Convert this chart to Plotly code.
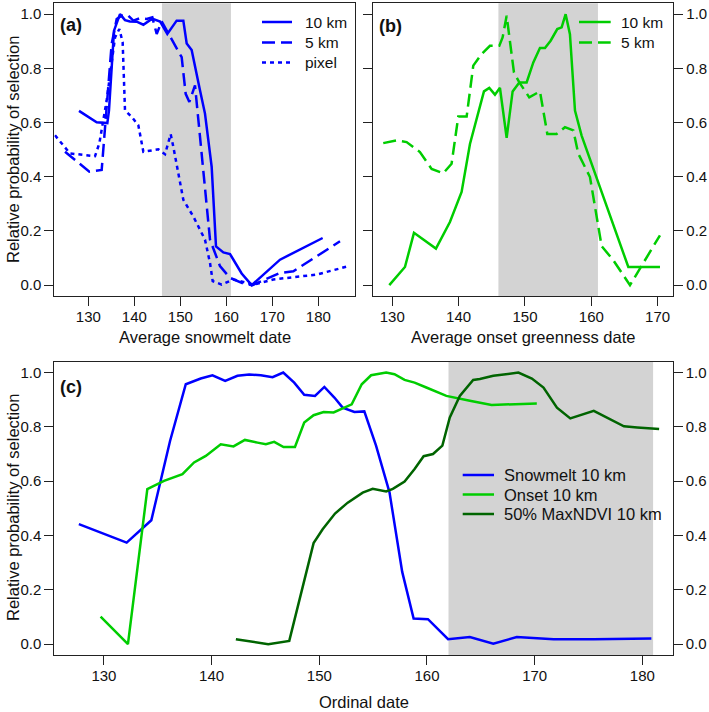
import plotly.graph_objects as go

# ---------------- data ----------------
# Panel (a): snowmelt date
a_10km_x = [127.97,131.81,134.13,134.49,135.58,136.88,137.97,139.06,140.51,141.96,143.41,144.13,145.58,147.17,149.2,150.65,151.38,152.46,154.28,155.36,156.81,157.75,159.35,160.8,163.33,165.51,171.67,180.94]
a_10km_y = [0.643,0.601,0.598,0.645,0.939,1.0,0.978,0.973,0.972,0.961,0.978,0.982,0.973,0.927,0.976,0.976,0.892,0.868,0.718,0.633,0.437,0.143,0.121,0.115,0.043,0.0,0.094,0.174]
a_5km_x = [124.93,130.22,132.9,133.99,135.07,136.16,137.25,138.48,139.78,141.23,142.68,143.91,144.86,145.94,148.12,150.29,151.16,151.96,153.19,154.64,156.45,158.62,160.8,163.7,165.65,171.67,174.57,184.71]
a_5km_y = [0.492,0.419,0.425,0.67,0.89,0.982,0.994,0.998,0.976,0.985,0.982,0.988,0.927,0.973,0.908,0.841,0.706,0.676,0.737,0.474,0.168,0.07,0.027,0.006,0.0,0.045,0.051,0.162]
a_pix_x = [122.75,126.01,131.45,132.39,133.99,135.07,135.8,136.74,137.46,137.97,139.42,140.87,141.96,145.22,146.67,147.9,148.48,150.65,152.83,155.36,156.45,157.03,158.99,161.52,165.87,170.22,179.64,186.52]
a_pix_y = [0.553,0.486,0.476,0.523,0.682,0.829,0.914,0.945,0.896,0.645,0.621,0.59,0.492,0.501,0.483,0.557,0.51,0.315,0.253,0.168,0.082,0.015,0.002,0.021,0.002,0.021,0.039,0.07]

# Panel (b): onset greenness date
b_10km_x = [129.55,131.91,133.27,136.58,138.69,140.45,141.71,143.82,144.62,145.48,146.23,147.24,148.14,149.15,150.25,151.26,152.26,153.02,153.87,154.87,155.53,156.13,156.78,157.54,158.54,165.58,170.35]
b_10km_y = [0.0,0.067,0.193,0.135,0.233,0.344,0.521,0.715,0.728,0.703,0.728,0.544,0.715,0.748,0.748,0.822,0.875,0.875,0.902,0.945,0.951,1.0,0.926,0.644,0.552,0.067,0.067]
b_5km_x = [128.64,130.65,132.16,134.17,135.93,137.69,138.94,139.95,141.21,142.21,143.47,144.72,146.13,146.63,147.24,148.34,149.15,150.65,152.26,153.37,154.77,156.03,157.29,158.04,159.8,161.56,163.32,165.83,170.35]
b_5km_y = [0.524,0.534,0.528,0.491,0.429,0.413,0.448,0.622,0.622,0.81,0.853,0.883,0.883,0.914,0.994,0.785,0.748,0.693,0.715,0.558,0.558,0.583,0.571,0.485,0.399,0.144,0.092,0.0,0.184]

# Panel (c): ordinal date
c_snow_x = [127.67,132.11,134.4,136.14,137.6,138.99,140.08,141.26,142.4,143.49,144.57,145.66,146.65,147.67,148.6,149.6,150.47,151.4,152.17,153.26,154.18,155.27,156.52,157.7,158.76,160.09,161.96,163.98,166.16,168.34,171.76,175.49,180.84]
c_snow_y = [0.442,0.374,0.456,0.748,0.957,0.978,0.99,0.969,0.988,0.993,0.99,0.983,1.0,0.963,0.918,0.914,0.947,0.908,0.871,0.855,0.857,0.731,0.559,0.266,0.094,0.092,0.018,0.026,0.002,0.026,0.018,0.018,0.021]
c_onset_x = [129.69,132.23,134.03,135.58,137.29,138.37,139.46,140.85,142.03,143.09,144.26,145.04,145.81,146.68,147.74,148.6,149.47,150.4,151.33,152.08,153.01,153.94,154.81,156.21,156.98,157.92,158.85,159.94,161.8,163.98,166.0,170.2]
c_onset_y = [0.101,0.0,0.571,0.601,0.626,0.669,0.693,0.736,0.728,0.752,0.742,0.736,0.745,0.726,0.726,0.816,0.843,0.855,0.853,0.867,0.883,0.957,0.99,1.0,0.994,0.973,0.963,0.945,0.914,0.896,0.881,0.886]
c_ndvi_x = [142.25,145.26,147.21,149.47,150.31,151.46,152.64,154.03,154.96,156.21,156.83,157.92,158.85,159.69,160.56,161.43,162.12,163.05,164.29,164.91,166.16,167.4,168.49,169.74,170.82,172.07,173.31,175.49,178.29,179.53,181.56]
c_ndvi_y = [0.018,0.0,0.012,0.372,0.423,0.481,0.521,0.558,0.572,0.562,0.572,0.599,0.645,0.692,0.7,0.731,0.835,0.914,0.973,0.976,0.988,0.994,1.0,0.978,0.945,0.871,0.831,0.859,0.802,0.798,0.792]

# shaded periods
shade_ab = [146, 161]
shade_c = [162, 181]

# text
panel_labels = ["(a)", "(b)", "(c)"]
legend_a = ["10 km", "5 km", "pixel"]
legend_b = ["10 km", "5 km"]
legend_c = ["Snowmelt 10 km", "Onset 10 km", "50% MaxNDVI 10 km"]
xtitles = ["Average snowmelt date", "Average onset greenness date", "Ordinal date"]
ytitle = "Relative probability of selection"

# ---------------- style ----------------
W, H = 709, 712
FONT = "Liberation Sans, Arial, sans-serif"
BLUE = "#0000FF"
GREEN = "#00CD00"
DKGREEN = "#006400"
GREY = "#D3D3D3"
AXC = "#222222"
LW = 2.5
DASH = "13px,6px"
DOT = "4px,4px"

def px(x):
    return x / W

def py(y):
    return 1 - y / H

fig = go.Figure()

def add(x, y, color, dash, xa, ya):
    fig.add_trace(go.Scatter(x=x, y=y, mode="lines", xaxis=xa, yaxis=ya,
                             line=dict(color=color, width=LW, dash=dash),
                             showlegend=False, hoverinfo="skip"))

add(a_10km_x, a_10km_y, BLUE, "solid", "x", "y")
add(a_5km_x, a_5km_y, BLUE, DASH, "x", "y")
add(a_pix_x, a_pix_y, BLUE, DOT, "x", "y")
add(b_10km_x, b_10km_y, GREEN, "solid", "x2", "y2")
add(b_5km_x, b_5km_y, GREEN, DASH, "x2", "y2")
add(c_snow_x, c_snow_y, BLUE, "solid", "x3", "y3")
add(c_onset_x, c_onset_y, GREEN, "solid", "x3", "y3")
add(c_ndvi_x, c_ndvi_y, DKGREEN, "solid", "x3", "y3")
fig.add_trace(go.Scatter(x=[], y=[], xaxis="x3", yaxis="y4", showlegend=False))

tickfont = dict(family=FONT, size=15, color="#111")
common_x = dict(showgrid=False, zeroline=False, showline=True, mirror=True,
                linecolor=AXC, linewidth=1, ticks="outside", ticklen=9,
                tickcolor=AXC, tickwidth=1, dtick=10, tick0=0, tickfont=tickfont,
                ticklabelstandoff=-2)
common_y = dict(showgrid=False, zeroline=False, showline=True,
                linecolor=AXC, linewidth=1, ticks="outside", ticklen=9,
                tickcolor=AXC, tickwidth=1, dtick=0.2, tick0=0, tickformat=".1f",
                range=[-0.04, 1.04], tickfont=tickfont)

dom_a = [px(54.3), px(355)]
dom_b = [px(373.3), px(673.3)]
dom_c = [px(54.3), px(672.7)]
ydom_ab = [py(296), py(3.3)]
ydom_c = [py(655), py(361.7)]

fig.update_layout(
    width=W, height=H,
    margin=dict(l=0, r=0, t=0, b=0),
    paper_bgcolor="white", plot_bgcolor="white",
    font=dict(family=FONT, color="#111"),
    showlegend=False,
    xaxis=dict(common_x, domain=dom_a, anchor="y", range=[122.6, 187.97]),
    yaxis=dict(common_y, domain=ydom_ab, anchor="x", mirror=True),
    xaxis2=dict(common_x, domain=dom_b, anchor="y2", range=[127.14, 172.36]),
    yaxis2=dict(common_y, domain=ydom_ab, anchor="x2", side="right", mirror="ticks"),
    xaxis3=dict(common_x, domain=dom_c, anchor="y3", range=[125.39, 182.82]),
    yaxis3=dict(common_y, domain=ydom_c, anchor="x3", mirror=True),
    yaxis4=dict(common_y, anchor="x3", overlaying="y3", side="right", showline=False),
)

shapes = [
    dict(type="rect", xref="x", yref="y domain", x0=shade_ab[0], x1=shade_ab[1], y0=0, y1=1,
         fillcolor=GREY, line=dict(width=0), layer="below"),
    dict(type="rect", xref="x2", yref="y2 domain", x0=shade_ab[0], x1=shade_ab[1], y0=0, y1=1,
         fillcolor=GREY, line=dict(width=0), layer="below"),
    dict(type="rect", xref="x3", yref="y3 domain", x0=shade_c[0], x1=shade_c[1], y0=0, y1=1,
         fillcolor=GREY, line=dict(width=0), layer="below"),
]
annotations = []

def legend(labels, colors, dashes, x0, x1, xt, rows, size):
    for lab, col, d, r in zip(labels, colors, dashes, rows):
        shapes.append(dict(type="line", xref="paper", yref="paper",
                           x0=px(x0), x1=px(x1), y0=py(r), y1=py(r),
                           line=dict(color=col, width=LW, dash=d)))
        annotations.append(dict(xref="paper", yref="paper", x=px(xt), y=py(r),
                                xanchor="left", yanchor="middle", showarrow=False,
                                text=lab, font=dict(family=FONT, size=size, color="#111")))

legend(legend_a, [BLUE] * 3, ["solid", DASH, DOT], 262, 292, 303, [22, 42.5, 62.5], 15.5)
legend(legend_b, [GREEN] * 2, ["solid", DASH], 579, 610.7, 619, [22, 42.5], 15.5)
legend(legend_c, [BLUE, GREEN, DKGREEN], ["solid"] * 3, 462.7, 494, 502, [475, 494.5, 514], 16.5)

for lab, xx, yy in zip(panel_labels, [58, 377, 58], [25, 26, 387]):
    annotations.append(dict(xref="paper", yref="paper", x=px(xx), y=py(yy),
                            xanchor="left", yanchor="middle", showarrow=False,
                            text="<b>" + lab + "</b>",
                            font=dict(family=FONT, size=18, color="#111")))

for lab, xx, yy in zip(xtitles, [204.7, 523.3, 363.5], [337, 337, 702]):
    annotations.append(dict(xref="paper", yref="paper", x=px(xx), y=py(yy),
                            xanchor="center", yanchor="middle", showarrow=False,
                            text=lab, font=dict(family=FONT, size=16.5, color="#111")))

for yy in [150, 508]:
    annotations.append(dict(xref="paper", yref="paper", x=px(13), y=py(yy),
                            xanchor="center", yanchor="middle", showarrow=False,
                            textangle=-90, text=ytitle,
                            font=dict(family=FONT, size=16.5, color="#111")))

fig.update_layout(shapes=shapes, annotations=annotations)
fig.write_html("out.html", config={"displayModeBar": False},
               post_script="document.body.style.margin='0px';document.body.style.overflow='hidden';")
